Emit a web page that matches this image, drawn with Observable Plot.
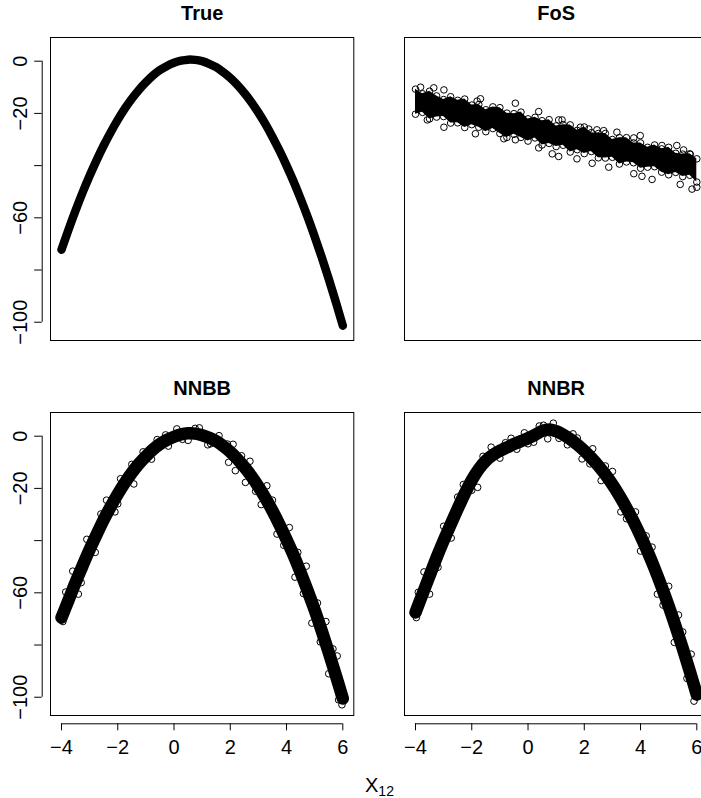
<!DOCTYPE html>
<html><head><meta charset="utf-8">
<script src="https://cdn.jsdelivr.net/npm/d3@7"></script>
<script src="https://cdn.jsdelivr.net/npm/@observablehq/plot@0.6"></script>
<style>
html,body{margin:0;padding:0;background:#fff;overflow:hidden;}
#wrap{position:relative;width:701px;height:798px;overflow:hidden;font-family:"Liberation Sans",Arial,Helvetica,sans-serif;}
.panel{position:absolute;}
</style></head><body><div id="wrap"></div>
<script>
// ---- data ----
const titles = ["True", "FoS", "NNBB", "NNBR"];
const xTicks = [-4, -2, 0, 2, 4, 6];
const yTicks = [0, -20, -40, -60, -80, -100];
const yLabelled = [0, -20, -60, -100];
const xAxisLabel = "X";
const xAxisSub = "12";

const xGrid = [-4,-3.75,-3.5,-3.25,-3,-2.75,-2.5,-2.25,-2,-1.75,-1.5,-1.25,-1,-0.75,-0.5,-0.25,0,0.25,0.5,0.75,1,1.25,1.5,1.75,2,2.25,2.5,2.75,3,3.25,3.5,3.75,4,4.25,4.5,4.75,5,5.25,5.5,5.75,6];

const trueY = [-72.2,-64.5,-57.2,-50.3,-43.9,-37.9,-32.3,-27.2,-22.5,-18.2,-14.4,-11.0,-8.1,-5.5,-3.4,-1.8,-0.6,0.2,0.6,0.5,0.0,-1.0,-2.3,-4.2,-6.4,-9.1,-12.2,-15.7,-19.7,-24.1,-29.0,-34.3,-40.0,-46.1,-52.7,-59.7,-67.2,-75.1,-83.4,-92.2,-101.3];

const fosUpper = [-10.7,-12.5,-11.5,-13.3,-14.7,-13.6,-15.0,-14.5,-16.8,-16.6,-18.6,-17.5,-17.8,-19.9,-20.1,-19.5,-22.1,-21.5,-22.8,-22.4,-24.8,-24.3,-24.4,-26.5,-25.2,-27.4,-27.7,-27.7,-30.0,-29.3,-29.3,-31.3,-31.3,-33.0,-32.1,-33.6,-33.0,-35.3,-35.6,-35.5,-37.4];
const fosLower = [-20.3,-19.6,-22.1,-21.4,-21.2,-23.7,-23.6,-25.4,-24.3,-25.3,-27.0,-25.8,-27.7,-29.2,-28.0,-29.2,-30.6,-29.4,-32.1,-31.5,-32.7,-32.2,-34.8,-33.9,-35.4,-34.6,-37.0,-37.1,-36.8,-39.4,-38.6,-38.9,-41.0,-40.6,-40.4,-42.5,-43.5,-42.6,-44.2,-43.7,-46.3];
const fosOutX = [-3.82,-3.35,-2.99,-1.69,-1.81,-0.45,0.38,1.09,1.21,1.86,2.16,2.45,2.69,3.16,3.76,3.99,4.76,5.29,5.53,5.77,-3.58,-2.99,-1.87,-0.86,-0.45,0.38,0.86,1.09,1.74,2.28,2.87,3.76,4.05,4.41,5.41,5.83,6.0];
const fosOutY = [-9.96,-10.2,-11.0,-14.4,-15.3,-16.1,-19.3,-22.5,-22.5,-25.3,-26.0,-26.3,-26.6,-27.2,-29.4,-28.5,-32.3,-32.3,-34.0,-35.7,-22.5,-25.3,-27.8,-29.7,-30.1,-33.2,-35.5,-36.5,-37.4,-39.1,-40.6,-43.1,-44.1,-45.3,-47.2,-49.0,-48.3];

const nnbbY = [-69.5,-62.8,-56.0,-49.6,-43.4,-37.6,-32.0,-26.9,-22.2,-17.9,-14.0,-10.6,-7.7,-5.1,-3.0,-1.4,-0.2,0.7,1.1,1.0,0.4,-0.6,-1.9,-3.8,-6.0,-8.7,-11.8,-15.3,-19.3,-23.7,-28.6,-33.9,-39.6,-45.6,-52.2,-59.2,-66.6,-74.5,-82.8,-91.5,-100.5];
const nnbbEdgeX = [-3.6,-3.1,-2.4,-1.9,-1.1,-0.6,0.1,0.9,1.6,2.1,2.7,3.3,4.1,4.7,5.4,5.8,-3.4,-2.8,-2.1,-1.43,-0.8,-0.2,0.5,1.2,1.94,2.18,2.54,3.1,3.66,4.3,4.9,5.5,5.97,
  -3.85,-3.95,-3.3,-2.6,-2.0,-1.5,-0.3,0.3,0.75,1.3,1.9,2.4,2.9,3.5,3.9,4.4,4.6,5.1,5.2,5.65,5.85];
const nnbbEdgeY = [-51.7,-39.5,-24.5,-16.3,-6.0,-1.3,2.8,3.2,0.2,-3.1,-9.6,-19.0,-35.0,-49.8,-71.0,-84.2,-60.5,-44.5,-29.0,-18.3,-8.8,-3.8,-1.6,-3.3,-10.0,-13.2,-17.7,-26.2,-37.5,-54.0,-71.6,-91.0,-102.9,
  -59.7,-71.0,-56.1,-29.8,-25.9,-10.8,0.5,-1.2,3.0,-2.9,-3.0,-7.5,-21.1,-24.5,-41.8,-44.5,-60.3,-63.9,-78.8,-81.5,-101.0];

const nnbrY = [-67.5,-60.5,-53.5,-46.5,-40.0,-33.8,-27.8,-22.0,-16.8,-12.6,-9.4,-7.2,-5.6,-4.3,-3.0,-1.9,-0.8,0.5,2.0,2.6,1.9,0.6,-1.1,-3.2,-5.6,-8.3,-11.3,-14.7,-18.5,-22.8,-27.5,-32.6,-38.2,-44.2,-50.7,-57.7,-65.1,-73.0,-81.3,-90.0,-99.0];
const nnbrEdgeX = [-3.7,-3.0,-2.3,-1.31,-0.6,-0.13,0.4,0.9,1.6,2.3,3.0,3.82,4.41,5.0,5.35,5.8,-3.5,-2.73,-1.79,-1.0,-0.4,0.2,0.7,1.4,1.92,2.6,3.3,4.0,4.6,5.2,5.9,
  -3.9,-3.97,-3.2,-2.5,-2.0,-1.6,-0.8,0.0,0.55,1.1,1.75,2.2,2.75,3.5,4.2,4.8,5.5,5.65];
const nnbrEdgeY = [-52.0,-34.5,-18.5,-4.2,-0.8,1.3,3.9,5.0,0.9,-4.8,-13.5,-29.0,-42.5,-57.5,-68.5,-83.5,-60.5,-39.0,-19.6,-8.4,-5.0,-2.3,-1.0,-3.3,-8.7,-17.0,-29.0,-44.0,-60.5,-79.0,-101.5,
  -59.8,-69.5,-50.2,-23.3,-20.7,-7.7,-2.5,-2.9,4.2,-0.8,-0.7,-10.6,-11.4,-31.6,-38.2,-64.7,-75.0,-92.8];

// ---- drawing ----
const FONT = '"Liberation Sans", Arial, Helvetica, sans-serif';
const xDomain = [-4.391, 6.391];
const yDomain = [-107.0, 9.08];
const fmt = d => d < 0 ? "\u2212" + Math.abs(d) : String(d);

function makePanel({title, left, top, width, height, marginRight, marginBottom, showX, showY, data}) {
  const marks = [];
  marks.push(...data);
  marks.push(Plot.frame({stroke: "black", strokeWidth: 1}));
  marks.push(Plot.text([title], {text: d => d, frameAnchor: "top", lineAnchor: "bottom", dy: -17.7, fontWeight: "bold", fontSize: 20}));
  if (showY) {
    marks.push(Plot.ruleX([xDomain[0]], {y1: yTicks[yTicks.length - 1], y2: yTicks[0], dx: -8.3, stroke: "black", strokeWidth: 1}));
    marks.push(Plot.axisY(yTicks, {anchor: "left", tickSize: 7.5, dx: -8.3, tickPadding: 7.5, tickRotate: -90, textAnchor: "middle", lineAnchor: "bottom", fontSize: 20, label: null, tickFormat: d => yLabelled.includes(d) ? fmt(d) : ""}));
  }
  if (showX) {
    marks.push(Plot.ruleY([yDomain[0]], {x1: xTicks[0], x2: xTicks[xTicks.length - 1], dy: 8.3, stroke: "black", strokeWidth: 1}));
    marks.push(Plot.axisX(xTicks, {anchor: "bottom", tickSize: 7, dy: 8.3, tickPadding: 9.2, fontSize: 20, label: null, tickFormat: fmt}));
  }
  const svg = Plot.plot({
    width, height,
    marginLeft: 50, marginTop: 37, marginRight, marginBottom,
    x: {domain: xDomain, axis: null},
    y: {domain: yDomain, axis: null},
    style: {fontFamily: FONT, fontSize: "20px", background: "transparent", overflow: "visible", color: "black"},
    marks
  });
  svg.classList.add("panel");
  svg.style.left = left + "px";
  svg.style.top = top + "px";
  svg.style.position = "absolute";
  document.getElementById("wrap").appendChild(svg);
}

const dotOpts = {r: 3.3, stroke: "black", strokeWidth: 1, fill: "none"};

makePanel({
  title: titles[0], left: 0, top: 0, width: 380, height: 380, marginRight: 26.7, marginBottom: 40,
  showX: false, showY: true,
  data: [Plot.line(trueY, {x: xGrid, y: trueY, stroke: "black", strokeWidth: 8.5, strokeLinecap: "round", strokeLinejoin: "round", curve: "catmull-rom"})]
});

makePanel({
  title: titles[1], left: 354, top: 0, width: 354, height: 380, marginRight: 0.7, marginBottom: 40,
  showX: false, showY: false,
  data: [
    Plot.areaY(fosUpper, {x: xGrid, y1: fosLower, y2: fosUpper, fill: "black", curve: "linear"}),
    Plot.dot(fosUpper, {x: xGrid, y: fosUpper, ...dotOpts}),
    Plot.dot(fosLower, {x: xGrid, y: fosLower, ...dotOpts}),
    Plot.dot(fosOutY, {x: fosOutX, y: fosOutY, ...dotOpts})
  ]
});

makePanel({
  title: titles[2], left: 0, top: 374.7, width: 380, height: 423.3, marginRight: 26.7, marginBottom: 83.3,
  showX: true, showY: true,
  data: [
    Plot.line(nnbbY, {x: xGrid, y: nnbbY, stroke: "black", strokeWidth: 12.5, strokeLinecap: "round", strokeLinejoin: "round", curve: "catmull-rom"}),
    Plot.dot(nnbbEdgeY, {x: nnbbEdgeX, y: nnbbEdgeY, ...dotOpts})
  ]
});

makePanel({
  title: titles[3], left: 354, top: 374.7, width: 354, height: 423.3, marginRight: 0.7, marginBottom: 83.3,
  showX: true, showY: false,
  data: [
    Plot.line(nnbrY, {x: xGrid, y: nnbrY, stroke: "black", strokeWidth: 12.5, strokeLinecap: "round", strokeLinejoin: "round", curve: "catmull-rom"}),
    Plot.dot(nnbrEdgeY, {x: nnbrEdgeX, y: nnbrEdgeY, ...dotOpts})
  ]
});

// outer x-axis label with subscript
const ns = "http://www.w3.org/2000/svg";
const lab = document.createElementNS(ns, "svg");
lab.setAttribute("width", "80"); lab.setAttribute("height", "40");
lab.style.position = "absolute"; lab.style.left = "340px"; lab.style.top = "760px"; lab.style.overflow = "visible";
const t = document.createElementNS(ns, "text");
t.setAttribute("x", "25"); t.setAttribute("y", "31.5");
t.setAttribute("font-family", FONT); t.setAttribute("font-size", "20");
t.appendChild(document.createTextNode(xAxisLabel));
const sub = document.createElementNS(ns, "tspan");
sub.setAttribute("dy", "4"); sub.setAttribute("font-size", "14");
sub.textContent = xAxisSub;
t.appendChild(sub);
lab.appendChild(t);
document.getElementById("wrap").appendChild(lab);
</script></body></html>
